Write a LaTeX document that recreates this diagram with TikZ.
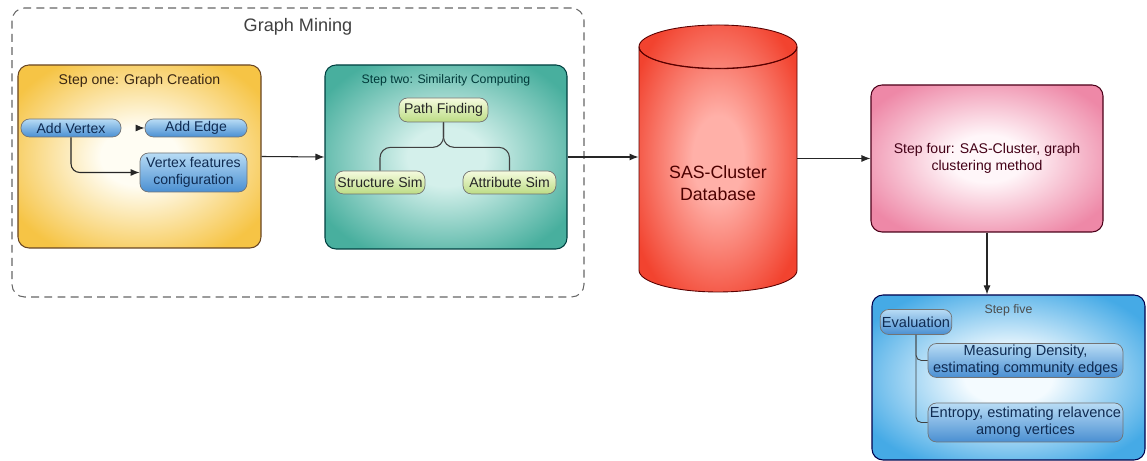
\documentclass[tikz,border=0pt]{standalone}
\usepackage{fontspec}
\setmainfont{Liberation Sans}
\usetikzlibrary{arrows.meta, positioning, shapes.geometric, calc}

\definecolor{goldedge}{HTML}{F6C445}
\definecolor{goldmid}{HTML}{FFFDF3}
\definecolor{tealedge}{HTML}{48AF9E}
\definecolor{tealmid}{HTML}{D4F0EB}
\definecolor{redcyl}{HTML}{F2432F}
\definecolor{redmid}{HTML}{FFB0A8}
\definecolor{pinkedge}{HTML}{EE88A7}
\definecolor{pinkmid}{HTML}{FFF6F9}
\definecolor{skyedge}{HTML}{45AAE6}
\definecolor{skymid}{HTML}{F4FBFF}
\definecolor{bluetop}{HTML}{B8DCF5}
\definecolor{bluebot}{HTML}{4A8FD2}
\definecolor{greentop}{HTML}{F5FBDF}
\definecolor{greenbot}{HTML}{BCDC84}
\definecolor{navytext}{HTML}{0F2B52}

% soft radial glow, colours set per node
\colorlet{glowin}{white}
\colorlet{glowout}{gray}
\pgfdeclareradialshading[glowin,glowout]{glow}{\pgfpoint{0bp}{0bp}}{%
  color(0bp)=(glowin); color(8bp)=(glowin); color(30bp)=(glowout); color(50bp)=(glowout)}

\begin{document}
\begin{tikzpicture}[
    stage/.style={draw=#1, line width=0.6pt, rounded corners=0.22cm},
    glowing/.style 2 args={/utils/exec={\colorlet{glowin}{#1}\colorlet{glowout}{#2}}, shading=glow},
    pill/.style={draw=black!55, line width=0.4pt, rounded corners=0.17cm, align=center, inner sep=1pt, font=\fontsize{8}{9.4}\selectfont},
    bluepill/.style={pill, top color=bluetop, bottom color=bluebot, text=navytext},
    greenpill/.style={pill, top color=greentop, bottom color=greenbot, text=black!85},
    arr/.style={-{Latex[length=1.8mm,width=1.4mm]}, line width=0.6pt, draw=black!85}
]
    \useasboundingbox (0,0) rectangle (22.94,9.22);

    % Graph mining frame
    \node[draw=black!60, line width=0.6pt, dash pattern=on 4.5pt off 3pt, rounded corners=0.25cm,
          minimum width=11.44cm, minimum height=5.78cm] (gm) at (5.96,6.17) {};
    \node[font=\fontsize{10.3}{12}\selectfont, text=black!75, below=0.1cm of gm.north] (gmt) {Graph Mining};

    % Step one: graph creation
    \node[stage=brown!55!black, glowing={goldmid}{goldedge},
          minimum width=4.86cm, minimum height=3.66cm] (s1) at (2.79,6.09) {};
    \node[font=\fontsize{8}{9}\selectfont, text=black!70!brown, below=0.08cm of s1.north] (s1t) {Step one: Graph Creation};
    \node[bluepill, minimum width=2cm, minimum height=0.36cm] (av) at (1.42,6.66) {Add Vertex};
    \node[bluepill, minimum width=2.04cm, minimum height=0.36cm] (ae) at (3.92,6.66) {Add Edge};
    \node[bluepill, minimum width=2.14cm, minimum height=0.78cm] (vf) at (3.87,5.77) {Vertex features\\configuration};

    % Step two: similarity computing
    \node[stage=teal!50!black, glowing={tealmid}{tealedge},
          minimum width=4.84cm, minimum height=3.68cm] (s2) at (8.92,6.08) {};
    \node[font=\fontsize{7}{8}\selectfont, text=teal!45!black, below=0.08cm of s2.north] (s2t) {Step two: Similarity Computing};
    \node[greenpill, minimum width=1.78cm, minimum height=0.48cm] (pf) at (8.87,7.02) {Path Finding};
    \node[greenpill, minimum width=1.8cm, minimum height=0.46cm] (ss) at (7.6,5.57) {Structure Sim};
    \node[greenpill, minimum width=1.86cm, minimum height=0.46cm] (as) at (10.19,5.57) {Attribute Sim};

    % Database
    \node[cylinder, shape border rotate=90, aspect=3.7, draw=red!35!black, line width=0.5pt,
          glowing={redmid}{redcyl}, minimum width=3.16cm, minimum height=5.34cm, anchor=shape center] (db) at (14.36,6.05) {};
    \draw[red!35!black, line width=0.5pt] let \p1=(db.top), \p2=(db.before top), \n1={\y1-\y2} in
        (\x1-1.58cm,\y2) arc[start angle=180, end angle=360, x radius=1.58cm, y radius=\n1];
    \node[font=\fontsize{10.1}{12.2}\selectfont, text=red!30!black, align=center] (dbt) at (14.36,5.56) {SAS-Cluster\\Database};

    % Step four
    \node[stage=purple!40!black, glowing={pinkmid}{pinkedge}, align=center,
          text=black!65!purple, font=\fontsize{8}{9.6}\selectfont,
          minimum width=4.64cm, minimum height=2.94cm] (s4) at (19.74,6.05) {Step four: SAS-Cluster, graph\\clustering method};

    % Step five: evaluation
    \node[stage=blue!30!black, glowing={skymid}{skyedge},
          minimum width=5.46cm, minimum height=3.3cm] (s5) at (20.17,1.67) {};
    \node[font=\fontsize{7}{8}\selectfont, text=black!70, below=0.08cm of s5.north] (s5t) {Step five};
    \node[bluepill, font=\fontsize{8.3}{9.6}\selectfont, minimum width=1.4cm, minimum height=0.5cm] (ev) at (18.32,2.78) {Evaluation};
    \node[bluepill, font=\fontsize{8.3}{9.6}\selectfont, minimum width=3.9cm, minimum height=0.66cm] (md) at (20.51,2.01) {Measuring Density,\\estimating community edges};
    \node[bluepill, font=\fontsize{8.3}{9.6}\selectfont, minimum width=3.9cm, minimum height=0.78cm] (en) at (20.51,0.77) {Entropy, estimating relavence\\among vertices};

    % connectors
    \draw[arr, shorten <=0.32cm] (av) -- (ae);
    \draw[arr, rounded corners=5pt] (av.south) |- (vf.west);
    \draw[line width=0.6pt, draw=black!75, rounded corners=6pt] (pf.south) -- ($(pf.south)+(0,-0.5)$) -| (ss.north);
    \draw[line width=0.6pt, draw=black!75, rounded corners=6pt] (pf.south) -- ($(pf.south)+(0,-0.5)$) -| (as.north);
    \draw[arr] (s1.east) -- (s2.west);
    \draw[arr] (s2.east) -- (s2.east -| db.west);
    \draw[arr] (s4.west -| db.east) -- (s4.west);
    \draw[arr] (s4.south) -- (s4.south |- s5.north);
    \draw[line width=0.5pt, draw=black!75, rounded corners=3pt] (ev.south) |- (md.west);
    \draw[line width=0.5pt, draw=black!75, rounded corners=3pt] (ev.south) |- (en.west);
\end{tikzpicture}
\end{document}
